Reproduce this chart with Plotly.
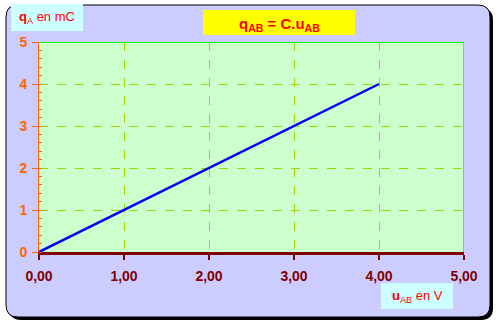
import plotly.graph_objects as go

# Data
u_AB = [0, 1, 2, 3, 4]          # V
q_A = [0, 1, 2, 3, 4]           # mC
x_ticks = [0, 1, 2, 3, 4, 5]
y_ticks = [0, 1, 2, 3, 4, 5]

W, H = 499, 325
L, R, T, B = 39, 35, 42, 73
PW, PH = W - L - R, H - T - B


def px(x):
    return (x - L) / PW


def py(y):
    return (H - B - y) / PH


def rrect(x0, y0, x1, y1, r):
    rx, ry = r / PW, r / PH
    a0, a1 = px(x0), px(x1)
    b0, b1 = py(y0), py(y1)  # b0 top, b1 bottom
    return (f"M {a0+rx},{b0} L {a1-rx},{b0} Q {a1},{b0} {a1},{b0-ry} "
            f"L {a1},{b1+ry} Q {a1},{b1} {a1-rx},{b1} L {a0+rx},{b1} "
            f"Q {a0},{b1} {a0},{b1+ry} L {a0},{b0-ry} Q {a0},{b0} {a0+rx},{b0} Z")


fig = go.Figure()
fig.add_trace(go.Scatter(x=u_AB, y=q_A, mode="lines",
                         line=dict(color="#0000FF", width=2.5),
                         cliponaxis=False, hoverinfo="skip"))

shapes = [
    dict(type="path", xref="paper", yref="paper", path=rrect(9, 8, 493, 320, 12),
         fillcolor="black", line=dict(width=0), layer="below"),
    dict(type="path", xref="paper", yref="paper", path=rrect(6, 5, 490, 317, 12),
         fillcolor="#CCCCFF", line=dict(color="black", width=1), layer="below"),
    dict(type="rect", xref="x", yref="y", x0=0, x1=5, y0=0, y1=5,
         fillcolor="#CCFFCC", line=dict(width=0), layer="below"),
    dict(type="rect", xref="paper", yref="paper", x0=px(11), x1=px(83), y0=py(31), y1=py(4),
         fillcolor="#CCFFFF", line=dict(width=0), layer="below"),
    dict(type="rect", xref="paper", yref="paper", x0=px(203), x1=px(355), y0=py(35), y1=py(10),
         fillcolor="#FFFF00", line=dict(width=0), layer="below"),
    dict(type="rect", xref="paper", yref="paper", x0=px(381), x1=px(453), y0=py(309), y1=py(283),
         fillcolor="#CCFFFF", line=dict(width=0), layer="below"),
    dict(type="line", xref="x", yref="y", x0=0, x1=5, y0=5, y1=5,
         line=dict(color="#00FF00", width=2), layer="above"),
    dict(type="line", xref="x", yref="y", x0=5, x1=5, y0=0, y1=5,
         line=dict(color="#00FF00", width=1.5), layer="above"),
]

annotations = [
    dict(xref="paper", yref="paper", x=px(279), y=py(24), showarrow=False,
         xanchor="center", yanchor="middle",
         text="<b>q<sub>AB</sub> = C.u<sub>AB</sub></b>",
         font=dict(color="#FF0000", size=15, family="Liberation Sans, Arial")),
    dict(xref="paper", yref="paper", x=px(47), y=py(18), showarrow=False,
         xanchor="center", yanchor="middle",
         text="<b>q</b><sub>A</sub> en mC",
         font=dict(color="#FF0000", size=13, family="Liberation Sans, Arial")),
    dict(xref="paper", yref="paper", x=px(417), y=py(296), showarrow=False,
         xanchor="center", yanchor="middle",
         text="<b>u</b><sub>AB</sub> en V",
         font=dict(color="#FF0000", size=13, family="Liberation Sans, Arial")),
]

fig.update_layout(
    width=W, height=H,
    margin=dict(l=L, r=R, t=T, b=B, pad=0, autoexpand=False),
    paper_bgcolor="white",
    plot_bgcolor="rgba(0,0,0,0)",
    separators=",.",
    showlegend=False,
    shapes=shapes,
    annotations=annotations,
    font=dict(family="Liberation Sans, Arial"),
    xaxis=dict(range=[0, 5], tickvals=x_ticks, tickformat=".2f", automargin=False,
               showline=True, linecolor="#800000", linewidth=2.5,
               ticks="outside", ticklen=5, tickwidth=2, tickcolor="#800000",
               tickfont=dict(color="#800000", size=14, family="Liberation Sans, Arial", weight="bold"),
               ticklabelstandoff=4,
               showgrid=True, gridcolor="#A6D400", griddash="dash", gridwidth=1,
               zeroline=False, fixedrange=True),
    yaxis=dict(range=[0, 5], tickvals=y_ticks, tickformat="d", automargin=False,
               showline=True, linecolor="#FF6600", linewidth=1,
               ticks="outside", ticklen=6, tickwidth=1, tickcolor="#FF6600",
               tickfont=dict(color="#FF6600", size=14, family="Liberation Sans, Arial", weight="bold"),
               ticklabelstandoff=2,
               minor=dict(dtick=0.2, ticks="inside", ticklen=3, tickcolor="#FF6600",
                          tickwidth=1, showgrid=False),
               showgrid=True, gridcolor="#A6D400", griddash="dash", gridwidth=1,
               zeroline=False, fixedrange=True),
)

fig.write_html("out.html")
